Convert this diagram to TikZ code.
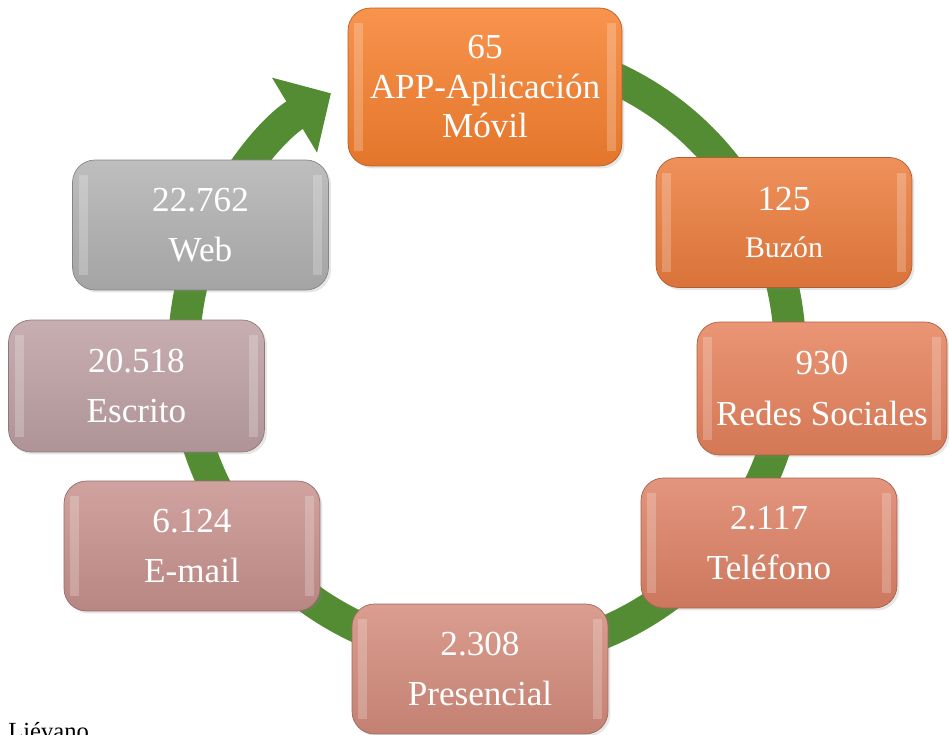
\documentclass[tikz,border=0pt]{standalone}
\usepackage{fontspec}
\setmainfont{Liberation Serif}
\usetikzlibrary{arrows.meta,shadows}

\definecolor{verdeanillo}{RGB}{84,140,52}
\definecolor{cApp}{RGB}{247,128,46}
\definecolor{cBuzon}{RGB}{236,125,62}
\definecolor{cRedes}{RGB}{230,130,92}
\definecolor{cTel}{RGB}{222,130,102}
\definecolor{cPres}{RGB}{212,140,124}
\definecolor{cMail}{RGB}{200,146,142}
\definecolor{cEsc}{RGB}{190,160,164}
\definecolor{cWeb}{RGB}{178,178,178}

\tikzset{
  caja/.style={rectangle, rounded corners=0.45cm, minimum width=5.12cm,
    minimum height=2.6cm, align=center, text=white,
    font=\fontsize{20}{28.5}\selectfont,
    draw=#1!75!black, top color=#1!85!white, bottom color=#1!92!black,
    drop shadow={opacity=0.2, shadow xshift=0.05cm, shadow yshift=-0.05cm},
    path picture={
      \fill[white, opacity=0.22, sharp corners]
        ([xshift=0.12cm,yshift=-0.3cm]path picture bounding box.north west) rectangle
        ([xshift=0.3cm,yshift=0.3cm]path picture bounding box.south west);
      \fill[white, opacity=0.22, sharp corners]
        ([xshift=-0.12cm,yshift=-0.3cm]path picture bounding box.north east) rectangle
        ([xshift=-0.3cm,yshift=0.3cm]path picture bounding box.south east);
    }},
  anillo/.style={draw=verdeanillo, line width=0.64cm,
    -{Triangle[width=1.7cm,length=0.85cm]}}
}

\begin{document}
\begin{tikzpicture}[x=0.02cm, y=0.02cm]
    \useasboundingbox (0,0) rectangle (949,734);

    % Anillo verde con flecha
    \coordinate (centro) at (487,381);
    \draw[anillo] (centro) ++(70:303) arc[start angle=70, end angle=-239, radius=303];

    % Canales
    \node[caja=cApp, minimum width=5.48cm, minimum height=3.16cm,
      font=\fontsize{20}{22.5}\selectfont] (app) at (485,647) {65\\APP-Aplicación\\Móvil};
    \node[caja=cBuzon, font=\fontsize{20}{26.5}\selectfont] (buzon) at (784,511.5)
      {125\\{\fontsize{17}{26.5}\selectfont Buzón}};
    \node[caja=cRedes, minimum width=5cm, minimum height=2.66cm] (redes) at (822,345.5) {930\\Redes Sociales};
    \node[caja=cTel] (telefono) at (769,191) {2.117\\Teléfono};
    \node[caja=cPres] (presencial) at (480,65) {2.308\\Presencial};
    \node[caja=cMail] (email) at (192,188) {6.124\\E-mail};
    \node[caja=cEsc, minimum height=2.64cm] (escrito) at (136.5,348) {20.518\\Escrito};
    \node[caja=cWeb] (web) at (200.5,509) {22.762\\Web};

    % Fuente
    \node[anchor=base west, inner sep=0pt, font=\fontsize{14}{16}\selectfont] (fuente) at (8,-5) {Liévano};
\end{tikzpicture}
\end{document}
